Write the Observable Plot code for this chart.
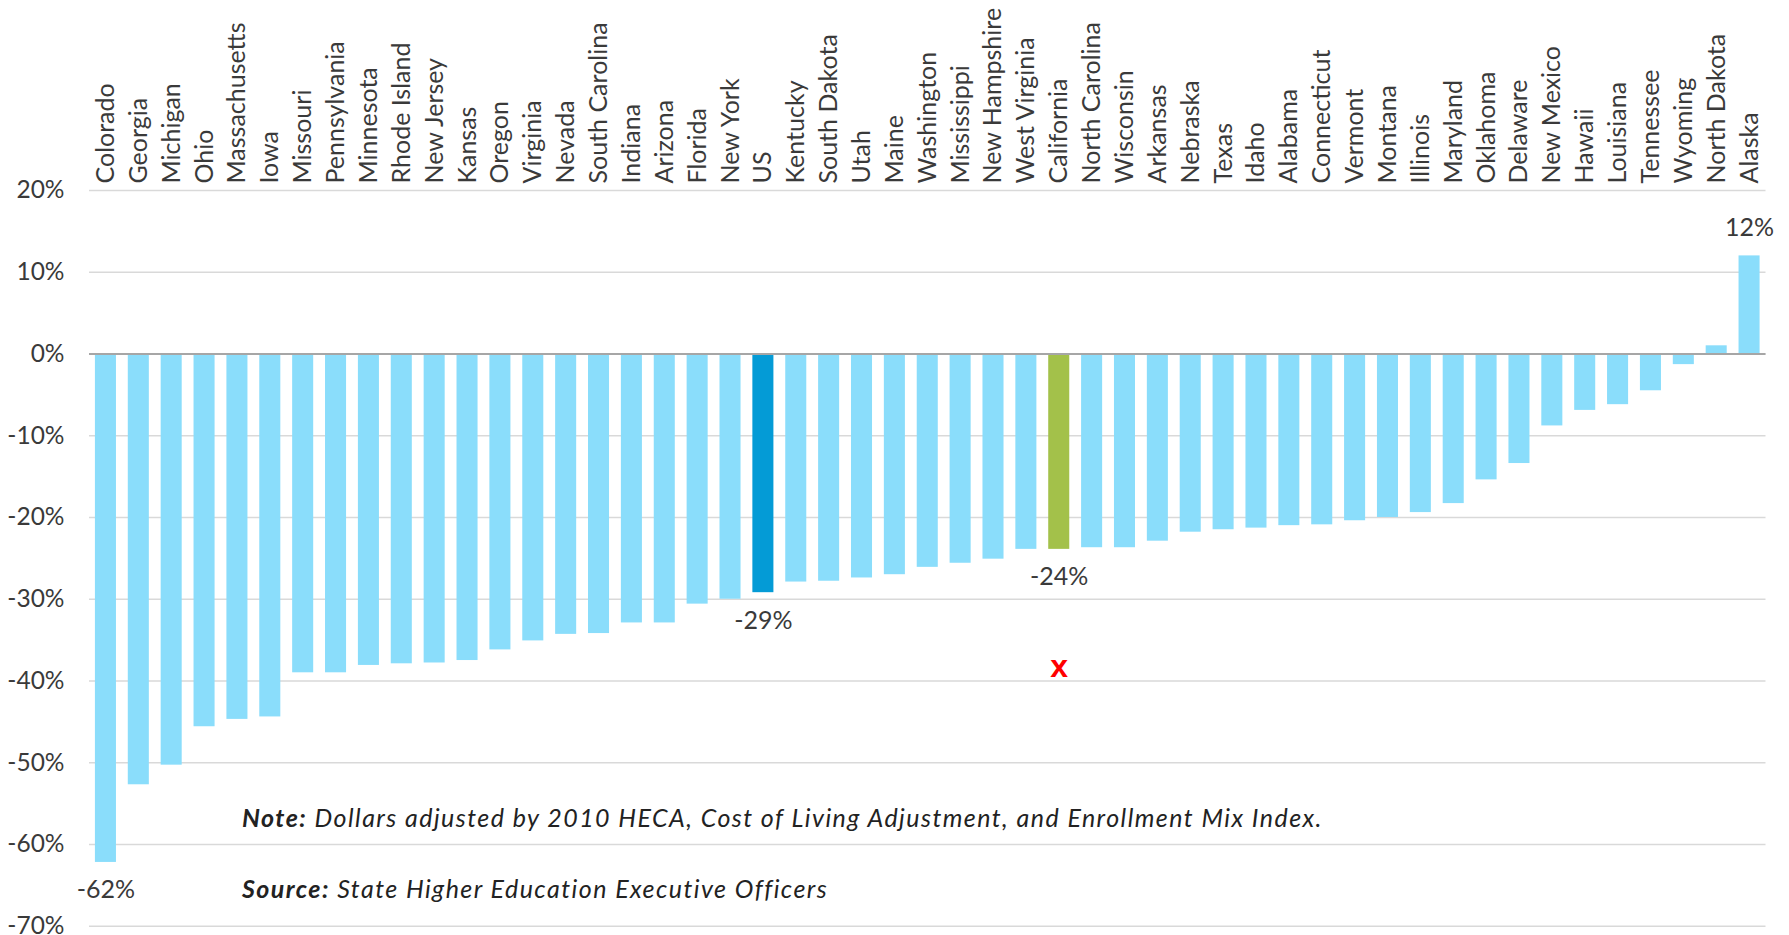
<!DOCTYPE html>
<html><head><meta charset="utf-8">
<script src="https://cdn.jsdelivr.net/npm/d3@7"></script>
<script src="https://cdn.jsdelivr.net/npm/@observablehq/plot@0.6"></script>
<style>
body{margin:0;background:#fff;}
#wrap{position:relative;width:1789px;height:935px;overflow:hidden;}
.note{position:absolute;left:242px;font-family:Lato,sans-serif;font-style:italic;font-size:25px;line-height:25px;letter-spacing:1.45px;color:#222;white-space:nowrap;}
.note b{font-weight:700;}
</style></head><body>
<div id="wrap"></div>
<script>
const states = ["Colorado","Georgia","Michigan","Ohio","Massachusetts","Iowa","Missouri","Pennsylvania","Minnesota","Rhode Island","New Jersey","Kansas","Oregon","Virginia","Nevada","South Carolina","Indiana","Arizona","Florida","New York","US","Kentucky","South Dakota","Utah","Maine","Washington","Mississippi","New Hampshire","West Virginia","California","North Carolina","Wisconsin","Arkansas","Nebraska","Texas","Idaho","Alabama","Connecticut","Vermont","Montana","Illinois","Maryland","Oklahoma","Delaware","New Mexico","Hawaii","Louisiana","Tennessee","Wyoming","North Dakota","Alaska"];
const changes = [-62.2,-52.7,-50.3,-45.6,-44.7,-44.4,-39.0,-39.0,-38.1,-37.9,-37.8,-37.5,-36.2,-35.1,-34.3,-34.2,-32.9,-32.9,-30.6,-30.0,-29.2,-27.9,-27.8,-27.4,-27.0,-26.1,-25.6,-25.1,-23.9,-23.9,-23.7,-23.7,-22.9,-21.8,-21.5,-21.3,-21.0,-20.9,-20.4,-20.0,-19.4,-18.3,-15.4,-13.4,-8.8,-6.9,-6.2,-4.5,-1.3,1.0,12.0];
const groups = ["State","US","California"];
const groupColors = ["#8addfb","#049bd6","#a3c14a"];
const labeledStates = ["Colorado","US","California","Alaska"];
const yTicks = [20,10,0,-10,-20,-30,-40,-50,-60,-70];
const markers = [{state:"California", value:-38.3, text:"x"}];
const noteLines = [
  {bold:"Note:", text:" Dollars adjusted by 2010 HECA, Cost of Living Adjustment, and Enrollment Mix Index.", baseline:826.7},
  {bold:"Source:", text:" State Higher Education Executive Officers", baseline:898}
];

const data = states.map((s,i)=>({state:s, value:changes[i], group: s==="US" ? "US" : s==="California" ? "California" : "State"}));
const labeled = data.filter(d=>labeledStates.includes(d.state));

const chart = Plot.plot({
  width:1789, height:935,
  marginLeft:89, marginRight:23.5, marginTop:190, marginBottom:9.3,
  style:{fontFamily:"Lato, sans-serif", color:"#3a3a3a", background:"#fff"},
  x:{domain:states, paddingInner:0.36, paddingOuter:0.18, label:null},
  y:{domain:[-70,20], label:null},
  color:{domain:groups, range:groupColors},
  marks:[
    Plot.gridY(yTicks, {stroke:"#d9d9d9", strokeOpacity:1, strokeWidth:1.6}),
    Plot.barY(data, {x:"state", y:"value", fill:"group"}),
    Plot.ruleY([0], {stroke:"#a6a6a6", strokeWidth:1.8}),
    Plot.axisY(yTicks, {tickSize:0, tickPadding:25, tickFormat:d=>d+"%", fontSize:24.5, label:null}),
    Plot.axisX({anchor:"top", tickRotate:-90, tickSize:0, tickPadding:7, fontSize:25, label:null}),
    Plot.text(labeled.filter(d=>d.value<0), {x:"state", y:"value", text:d=>Math.round(d.value)+"%", dy:28, fontSize:25, fill:"#3a3a3a"}),
    Plot.text(labeled.filter(d=>d.value>=0), {x:"state", y:"value", text:d=>Math.round(d.value)+"%", dy:-28, fontSize:25, fill:"#3a3a3a"}),
    Plot.text(markers, {x:"state", y:"value", text:"text", fill:"#ff0000", fontWeight:"bold", fontSize:32, fontFamily:"Liberation Sans"})
  ]
});
const wrap = document.getElementById("wrap");
wrap.appendChild(chart);
for (const n of noteLines) {
  const div = document.createElement("div");
  div.className = "note";
  div.style.top = (n.baseline - 22.2) + "px";
  const b = document.createElement("b"); b.textContent = n.bold;
  div.appendChild(b);
  div.appendChild(document.createTextNode(n.text));
  wrap.appendChild(div);
}
</script>
</body></html>
